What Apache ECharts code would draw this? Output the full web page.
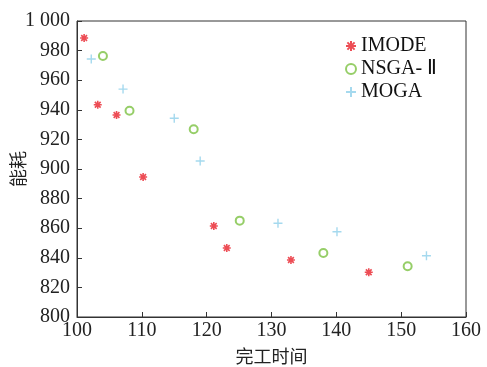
<!DOCTYPE html>
<html><head><meta charset="utf-8">
<script src="https://cdn.jsdelivr.net/npm/echarts@6/dist/echarts.min.js"></script>
<style>html,body{margin:0;padding:0;background:#fff}#c{width:487px;height:367px}</style>
</head><body><div id="c"></div>
<script>
const imodeX = [101.1, 103.2, 106.1, 110.2, 121.1, 123.1, 133.0, 145.0];
const imodeY = [988.5, 943.4, 936.5, 894.6, 861.5, 846.6, 838.5, 830.2];
const nsgaX = [104.0, 108.1, 118.0, 125.1, 138.0, 151.0];
const nsgaY = [976.4, 939.4, 926.8, 865.1, 843.2, 834.3];
const mogaX = [102.2, 107.1, 115.0, 119.0, 131.0, 140.1, 153.9];
const mogaY = [974.3, 954.0, 934.3, 905.4, 863.3, 857.6, 841.4];
const seriesNames = ['IMODE', 'NSGA- Ⅱ', 'MOGA'];
const xName = '完工时间';
const yName = '能耗';

const zip = (xs, ys) => xs.map((x, i) => [x, ys[i]]);
const serif = 'Liberation Serif';
const cjk = 'Noto Sans CJK SC';

const star = 'path://M-1,0L1,0M0,-1L0,1M-0.72,-0.72L0.72,0.72M-0.72,0.72L0.72,-0.72';
const plus = 'path://M-1,0L1,0M0,-1L0,1';

const chart = echarts.init(document.getElementById('c'), null, {renderer: 'canvas'});
chart.setOption({
  animation: false,
  backgroundColor: '#fff',
  textStyle: {fontFamily: serif},
  grid: {left: 77, right: 21, top: 21, bottom: 50, containLabel: false, outerBoundsMode: 'none',
    show: true, borderColor: '#333', borderWidth: 1},
  legend: {
    orient: 'vertical', left: 340, top: 31, itemGap: 3, itemWidth: 10, itemHeight: 10,
    textStyle: {fontFamily: serif, fontSize: 20, color: '#111'},
    data: seriesNames
  },
  xAxis: {
    type: 'value', min: 100, max: 160, interval: 10,
    name: xName, nameLocation: 'middle', nameGap: 30, nameMoveOverlap: false,
    nameTextStyle: {fontFamily: cjk, fontSize: 18, color: '#222'},
    axisLine: {show: true, lineStyle: {color: '#333', width: 1}},
    axisTick: {show: true, inside: true, length: 5, lineStyle: {color: '#333'}},
    axisLabel: {fontFamily: serif, fontSize: 20, color: '#222', margin: 4},
    splitLine: {show: false}
  },
  yAxis: {
    type: 'value', min: 800, max: 1000, interval: 20,
    name: yName, nameLocation: 'middle', nameGap: 50, nameRotate: 90, nameMoveOverlap: false,
    nameTextStyle: {fontFamily: cjk, fontSize: 18, color: '#222'},
    axisLine: {show: true, lineStyle: {color: '#333', width: 1}},
    axisTick: {show: true, inside: true, length: 5, lineStyle: {color: '#333'}},
    axisLabel: {fontFamily: serif, fontSize: 20, color: '#222', margin: 7,
      formatter: v => v >= 1000 ? '1 000' : String(v)},
    splitLine: {show: false}
  },
  series: [
    {name: seriesNames[0], type: 'scatter', data: zip(imodeX, imodeY), symbol: star, symbolSize: 8,
      itemStyle: {color: '#e8202a', borderColor: '#e8202a', borderWidth: 1.6}},
    {name: seriesNames[1], type: 'scatter', data: zip(nsgaX, nsgaY), symbol: 'emptyCircle', symbolSize: 8,
      itemStyle: {color: '#7cc242', borderColor: '#7cc242', borderWidth: 1.4}},
    {name: seriesNames[2], type: 'scatter', data: zip(mogaX, mogaY), symbol: plus, symbolSize: 9,
      itemStyle: {color: '#8fcfea', borderColor: '#8fcfea', borderWidth: 1.4}}
  ]
});
</script></body></html>
